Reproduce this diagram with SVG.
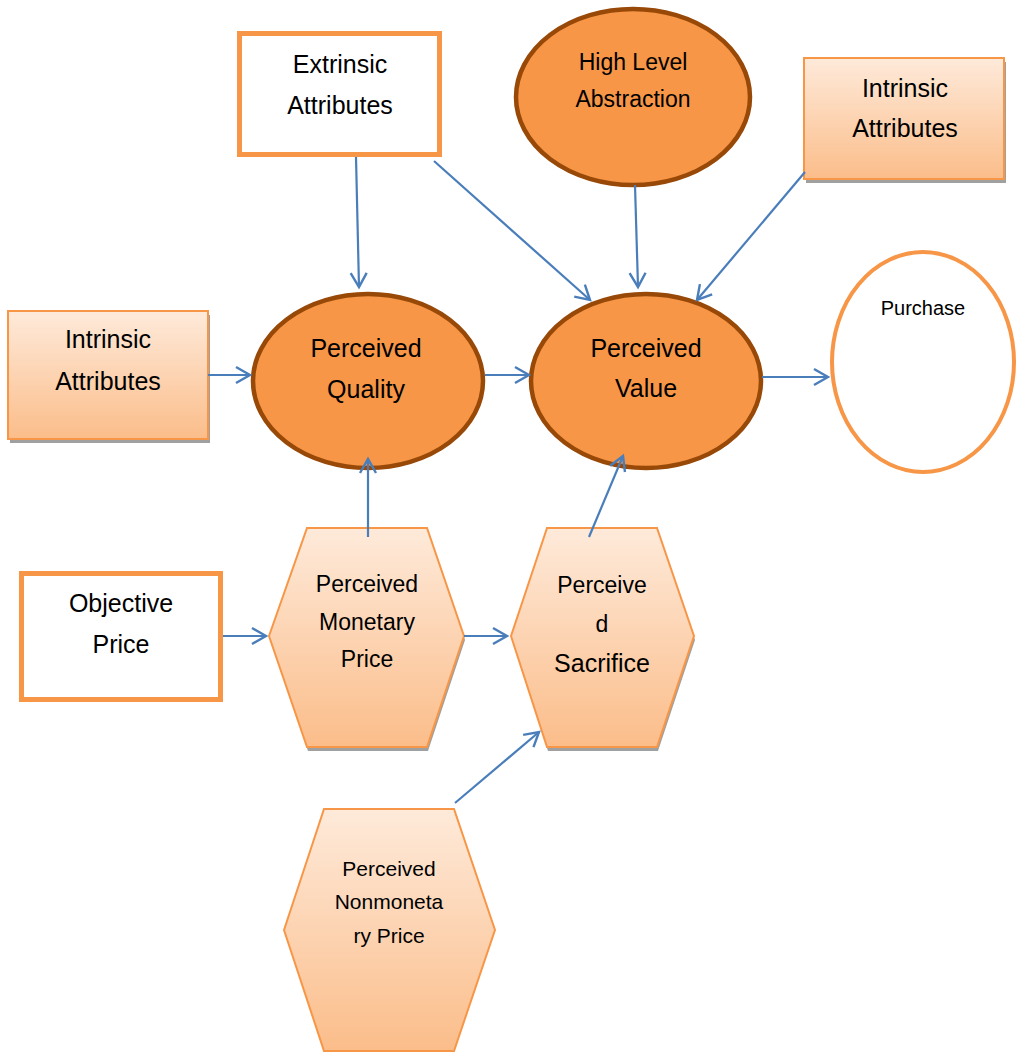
<svg xmlns="http://www.w3.org/2000/svg" width="1016" height="1054" viewBox="0 0 1016 1054">
<defs>
<linearGradient id="g" x1="0" y1="0" x2="0" y2="1">
<stop offset="0" stop-color="#FEEADA"/>
<stop offset="1" stop-color="#FBBD8A"/>
</linearGradient>
<marker id="ah" markerWidth="20" markerHeight="20" refX="16" refY="10" orient="auto" markerUnits="userSpaceOnUse">
<path d="M2,2 L16,10 L2,18" fill="none" stroke="#4A7EBB" stroke-width="2.4"/>
</marker>
<style>
text{font-family:"Liberation Sans",Arial,sans-serif;fill:#000;text-anchor:middle}
.box{fill:#fff;stroke:#F79646;stroke-width:5}
.grad{fill:url(#g);stroke:#F79646;stroke-width:2}
.shadow{fill:#A0A0A0}
.dark{fill:#F79646;stroke:#984807;stroke-width:4.5}
.purchase{fill:#fff;stroke:#F79646;stroke-width:4}
.conn line{stroke:#4A7EBB;stroke-width:2.2;marker-end:url(#ah)}
.t24{font-size:25px}
.t22{font-size:23px}
.t20{font-size:21px}
.t19{font-size:20px}
</style>
</defs>

<g id="extrinsic">
<rect class="box" x="239.5" y="33.5" width="200" height="121"/>
<text class="t24" x="340" y="73">Extrinsic</text>
<text class="t24" x="340" y="114">Attributes</text>
</g>

<g id="high-level">
<ellipse class="dark" cx="633" cy="97" rx="117" ry="88"/>
<text class="t22" x="633" y="70">High Level</text>
<text class="t22" x="633" y="107">Abstraction</text>
</g>

<g id="intrinsic-top">
<rect class="shadow" x="806" y="62" width="200" height="121"/>
<rect class="grad" x="804" y="58" width="200" height="121"/>
<text class="t24" x="905" y="97">Intrinsic</text>
<text class="t24" x="905" y="137">Attributes</text>
</g>

<g id="intrinsic-left">
<rect class="shadow" x="10" y="315" width="200" height="128"/>
<rect class="grad" x="8" y="311" width="200" height="128"/>
<text class="t24" x="108" y="348">Intrinsic</text>
<text class="t24" x="108" y="390">Attributes</text>
</g>

<g id="perceived-quality">
<ellipse class="dark" cx="368" cy="381" rx="115" ry="87"/>
<text class="t24" x="366" y="357">Perceived</text>
<text class="t24" x="366" y="398">Quality</text>
</g>

<g id="perceived-value">
<ellipse class="dark" cx="646" cy="381" rx="115" ry="87"/>
<text class="t24" x="646" y="357">Perceived</text>
<text class="t24" x="646" y="397">Value</text>
</g>

<g id="purchase">
<ellipse class="purchase" cx="923" cy="362" rx="91" ry="110"/>
<text class="t19" x="923" y="315">Purchase</text>
</g>

<g id="objective-price">
<rect class="box" x="21.5" y="573.5" width="199" height="126"/>
<text class="t24" x="121" y="612">Objective</text>
<text class="t24" x="121" y="653">Price</text>
</g>

<g id="monetary-price">
<polygon class="shadow" points="270,640 308,532 428,532 465,640 428,751 308,751"/>
<polygon class="grad" points="269,636 307,528 427,528 464,636 427,747 307,747"/>
<text class="t22" x="367" y="592">Perceived</text>
<text class="t22" x="367" y="630">Monetary</text>
<text class="t22" x="367" y="667">Price</text>
</g>

<g id="sacrifice">
<polygon class="shadow" points="512,640 548,532 658,532 695,640 658,751 548,751"/>
<polygon class="grad" points="511,636 547,528 657,528 694,636 657,747 547,747"/>
<text class="t22" x="602" y="593">Perceive</text>
<text class="t22" x="602" y="632">d</text>
<text class="t24" x="602" y="672">Sacrifice</text>
</g>

<g id="nonmonetary-price">
<polygon class="grad" points="284,930 324,809 454,809 495,930 454,1051 324,1051"/>
<text class="t20" x="389" y="876">Perceived</text>
<text class="t20" x="389" y="909">Nonmoneta</text>
<text class="t20" x="389" y="943">ry Price</text>
</g>

<g class="conn" id="connectors">
<line x1="356" y1="157" x2="359" y2="287"/>
<line x1="434" y1="161" x2="590" y2="300"/>
<line x1="635" y1="185" x2="638" y2="287"/>
<line x1="805" y1="172" x2="697" y2="300"/>
<line x1="208" y1="375" x2="250" y2="375"/>
<line x1="485" y1="375" x2="529" y2="375"/>
<line x1="762" y1="377" x2="828" y2="377"/>
<line x1="368" y1="537" x2="368" y2="459"/>
<line x1="589" y1="537" x2="623" y2="456"/>
<line x1="223" y1="636" x2="266" y2="636"/>
<line x1="464" y1="636" x2="507" y2="636"/>
<line x1="455" y1="803" x2="539" y2="732"/>
</g>
</svg>
